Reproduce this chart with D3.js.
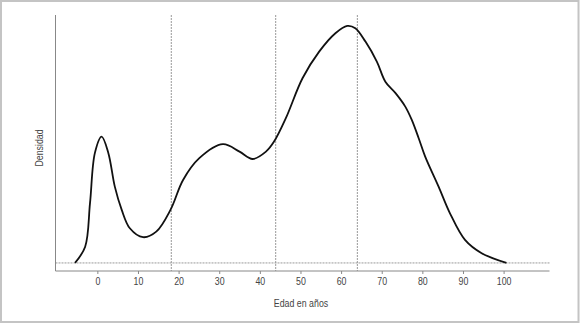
<!DOCTYPE html>
<html>
<head>
<meta charset="utf-8">
<script src="https://cdn.jsdelivr.net/npm/d3@7"></script>
<style>
  body { margin: 0; background: #fff; }
  svg text { font-family: "Liberation Sans", Arial, sans-serif; fill: #444; }
</style>
</head>
<body>
<div id="chart"></div>
<script>
// kernel density of age
const ages = [-5.5, -3.0, -1.8, -0.6, 1.05, 2.7, 4.3, 6.0, 8.0, 11.25, 14.5, 18.0, 21.1, 25.1,
  30.9, 35.0, 38.2, 41.5, 43.5, 46.4, 50.5, 54.6, 58.6, 61.5, 63.5, 66.0, 68.8, 70.9,
  73.4, 75.8, 77.4, 79.1, 80.7, 84.0, 86.8, 90.5, 94.6, 100.7];
const density = [0, 0.00144, 0.00532, 0.00975, 0.01119, 0.00975, 0.00676, 0.00470, 0.00307,
  0.00228, 0.00277, 0.00470, 0.00735, 0.00928, 0.01052, 0.00986, 0.00921, 0.00986, 0.01075,
  0.01282, 0.01636, 0.01872, 0.02035, 0.02100, 0.02080, 0.01961, 0.01784, 0.01606,
  0.01504, 0.01385, 0.01267, 0.01105, 0.00942, 0.00676, 0.00440, 0.00204, 0.00086, 0];
const xTicks = [0, 10, 20, 30, 40, 50, 60, 70, 80, 90, 100];
const cutPoints = [18.2, 43.9, 64.0];

const W = 580, H = 324;
const margin = { top: 15, bottom: 53, left: 55.5, right: 30.5 };
const narrow = 'scale(0.84,1)';   // fake Arial Narrow

const svg = d3.select('#chart')
    .append('svg')
    .attr('width', W)
    .attr('height', H);

// outer frame
svg.append('rect')
    .attr('x', 1).attr('y', 1)
    .attr('width', W - 2.5).attr('height', H - 3)
    .attr('fill', 'none')
    .attr('stroke', '#c4c4c4')
    .attr('stroke-width', 2);

let xScale = d3.scaleLinear()
    .domain([-10.3, 111.3])
    .range([margin.left, W - margin.right]);

let maxD = d3.max(density);
let yScale = d3.scaleLinear()
    .domain([-0.034 * maxD, 1.046 * maxD])
    .range([H - margin.bottom, margin.top]);

let x0 = margin.left, x1 = W - margin.right;
let yBot = H - margin.bottom, yTop = margin.top;

// zero line
svg.append('line')
    .attr('x1', x0).attr('x2', x1)
    .attr('y1', yScale(0)).attr('y2', yScale(0))
    .attr('stroke', '#999')
    .attr('stroke-width', 1)
    .attr('stroke-dasharray', '2,1');

// cut points
svg.append('g')
    .selectAll('line')
    .data(cutPoints)
    .join('line')
    .attr('x1', d => xScale(d)).attr('x2', d => xScale(d))
    .attr('y1', yTop).attr('y2', yBot)
    .attr('stroke', '#999')
    .attr('stroke-width', 1)
    .attr('stroke-dasharray', '2,1');

// axes (only left and bottom lines, like bty="l")
let xAxis = svg.append('g')
    .attr('transform', 'translate(0,' + yBot + ')')
    .call(d3.axisBottom(xScale)
        .tickValues(xTicks)
        .tickSize(3)
        .tickSizeOuter(0)
        .tickPadding(4));
xAxis.select('.domain').remove();
xAxis.selectAll('line').attr('stroke', '#888');
xAxis.selectAll('text')
    .attr('font-size', 10.5)
    .attr('transform', narrow)
    .style('font-family', '"Liberation Sans", Arial, sans-serif')
    .style('fill', '#444');

svg.append('line')
    .attr('x1', x0).attr('x2', x1)
    .attr('y1', yBot).attr('y2', yBot)
    .attr('stroke', '#888');
svg.append('line')
    .attr('x1', x0).attr('x2', x0)
    .attr('y1', yTop).attr('y2', yBot)
    .attr('stroke', '#888');

// titles
svg.append('text')
    .attr('transform', 'translate(301,307) ' + narrow)
    .attr('text-anchor', 'middle')
    .attr('font-size', 10.5)
    .text('Edad en años');

svg.append('text')
    .attr('transform', 'translate(43,148) rotate(-90) ' + narrow)
    .attr('text-anchor', 'middle')
    .attr('font-size', 10.5)
    .text('Densidad');

// density curve
let line = d3.line()
    .x((d, i) => xScale(ages[i]))
    .y(d => yScale(d))
    .curve(d3.curveCatmullRom.alpha(0.5));

svg.append('path')
    .datum(density)
    .attr('d', line)
    .attr('fill', 'none')
    .attr('stroke', '#111')
    .attr('stroke-width', 1.8);
</script>
</body>
</html>
